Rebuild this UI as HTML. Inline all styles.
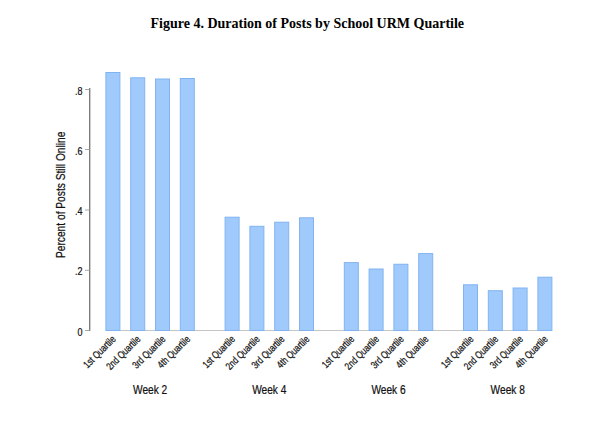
<!DOCTYPE html>
<html><head><meta charset="utf-8"><style>
html,body{margin:0;padding:0;background:#fff;}
body{width:600px;height:423px;overflow:hidden;position:relative;}
svg{position:absolute;left:0;top:0;}
svg text{font-family:"Liberation Sans",sans-serif;fill:#111;stroke:#111;stroke-width:0.22px;}
svg text.t{font-family:"Liberation Serif",serif;font-weight:bold;font-size:14px;fill:#000;stroke:none;}
</style></head><body>
<svg width="600" height="423" viewBox="0 0 600 423">
<text class="t" x="150.5" y="27.5">Figure 4. Duration of Posts by School URM Quartile</text>
<line x1="112.90" y1="330.5" x2="544.90" y2="330.5" stroke="#c4c4c4" stroke-width="1"/>
<rect x="105.90" y="72.50" width="14.00" height="258.00" fill="#a1cafc" stroke="#80b3f2" stroke-width="1"/>
<rect x="130.70" y="77.80" width="14.00" height="252.70" fill="#a1cafc" stroke="#80b3f2" stroke-width="1"/>
<rect x="155.50" y="79.00" width="14.00" height="251.50" fill="#a1cafc" stroke="#80b3f2" stroke-width="1"/>
<rect x="180.30" y="78.50" width="14.00" height="252.00" fill="#a1cafc" stroke="#80b3f2" stroke-width="1"/>
<rect x="225.10" y="217.20" width="14.00" height="113.30" fill="#a1cafc" stroke="#80b3f2" stroke-width="1"/>
<rect x="249.90" y="226.30" width="14.00" height="104.20" fill="#a1cafc" stroke="#80b3f2" stroke-width="1"/>
<rect x="274.70" y="222.20" width="14.00" height="108.30" fill="#a1cafc" stroke="#80b3f2" stroke-width="1"/>
<rect x="299.50" y="217.80" width="14.00" height="112.70" fill="#a1cafc" stroke="#80b3f2" stroke-width="1"/>
<rect x="344.30" y="262.60" width="14.00" height="67.90" fill="#a1cafc" stroke="#80b3f2" stroke-width="1"/>
<rect x="369.10" y="269.00" width="14.00" height="61.50" fill="#a1cafc" stroke="#80b3f2" stroke-width="1"/>
<rect x="393.90" y="264.25" width="14.00" height="66.25" fill="#a1cafc" stroke="#80b3f2" stroke-width="1"/>
<rect x="418.70" y="253.60" width="14.00" height="76.90" fill="#a1cafc" stroke="#80b3f2" stroke-width="1"/>
<rect x="463.50" y="284.80" width="14.00" height="45.70" fill="#a1cafc" stroke="#80b3f2" stroke-width="1"/>
<rect x="488.30" y="290.70" width="14.00" height="39.80" fill="#a1cafc" stroke="#80b3f2" stroke-width="1"/>
<rect x="513.10" y="288.00" width="14.00" height="42.50" fill="#a1cafc" stroke="#80b3f2" stroke-width="1"/>
<rect x="537.90" y="277.20" width="14.00" height="53.30" fill="#a1cafc" stroke="#80b3f2" stroke-width="1"/>
<line x1="89.75" y1="88" x2="89.75" y2="331" stroke="#5a5a5a" stroke-width="1.1"/>
<line x1="85" y1="89.5" x2="89.5" y2="89.5" stroke="#a8a8a8" stroke-width="1"/>
<text transform="translate(82.5,94.50) scale(0.88,1)" text-anchor="end" font-size="10.2">.8</text>
<line x1="85" y1="149.5" x2="89.5" y2="149.5" stroke="#a8a8a8" stroke-width="1"/>
<text transform="translate(82.5,154.50) scale(0.88,1)" text-anchor="end" font-size="10.2">.6</text>
<line x1="85" y1="210" x2="89.5" y2="210" stroke="#a8a8a8" stroke-width="1"/>
<text transform="translate(82.5,215.00) scale(0.88,1)" text-anchor="end" font-size="10.2">.4</text>
<line x1="85" y1="270.3" x2="89.5" y2="270.3" stroke="#a8a8a8" stroke-width="1"/>
<text transform="translate(82.5,275.30) scale(0.88,1)" text-anchor="end" font-size="10.2">.2</text>
<line x1="85" y1="330.5" x2="89.5" y2="330.5" stroke="#a8a8a8" stroke-width="1"/>
<text transform="translate(82.5,335.50) scale(0.88,1)" text-anchor="end" font-size="10.2">0</text>
<text transform="translate(113.90,337.2) rotate(-45) scale(0.77,1)" x="0" y="3.6" text-anchor="end" font-size="10.4">1st Quartile</text>
<text transform="translate(138.70,337.2) rotate(-45) scale(0.77,1)" x="0" y="3.6" text-anchor="end" font-size="10.4">2nd Quartile</text>
<text transform="translate(163.50,337.2) rotate(-45) scale(0.77,1)" x="0" y="3.6" text-anchor="end" font-size="10.4">3rd Quartile</text>
<text transform="translate(188.30,337.2) rotate(-45) scale(0.77,1)" x="0" y="3.6" text-anchor="end" font-size="10.4">4th Quartile</text>
<text transform="translate(233.10,337.2) rotate(-45) scale(0.77,1)" x="0" y="3.6" text-anchor="end" font-size="10.4">1st Quartile</text>
<text transform="translate(257.90,337.2) rotate(-45) scale(0.77,1)" x="0" y="3.6" text-anchor="end" font-size="10.4">2nd Quartile</text>
<text transform="translate(282.70,337.2) rotate(-45) scale(0.77,1)" x="0" y="3.6" text-anchor="end" font-size="10.4">3rd Quartile</text>
<text transform="translate(307.50,337.2) rotate(-45) scale(0.77,1)" x="0" y="3.6" text-anchor="end" font-size="10.4">4th Quartile</text>
<text transform="translate(352.30,337.2) rotate(-45) scale(0.77,1)" x="0" y="3.6" text-anchor="end" font-size="10.4">1st Quartile</text>
<text transform="translate(377.10,337.2) rotate(-45) scale(0.77,1)" x="0" y="3.6" text-anchor="end" font-size="10.4">2nd Quartile</text>
<text transform="translate(401.90,337.2) rotate(-45) scale(0.77,1)" x="0" y="3.6" text-anchor="end" font-size="10.4">3rd Quartile</text>
<text transform="translate(426.70,337.2) rotate(-45) scale(0.77,1)" x="0" y="3.6" text-anchor="end" font-size="10.4">4th Quartile</text>
<text transform="translate(471.50,337.2) rotate(-45) scale(0.77,1)" x="0" y="3.6" text-anchor="end" font-size="10.4">1st Quartile</text>
<text transform="translate(496.30,337.2) rotate(-45) scale(0.77,1)" x="0" y="3.6" text-anchor="end" font-size="10.4">2nd Quartile</text>
<text transform="translate(521.10,337.2) rotate(-45) scale(0.77,1)" x="0" y="3.6" text-anchor="end" font-size="10.4">3rd Quartile</text>
<text transform="translate(545.90,337.2) rotate(-45) scale(0.77,1)" x="0" y="3.6" text-anchor="end" font-size="10.4">4th Quartile</text>
<text transform="translate(150.10,393.5) scale(0.84,1)" text-anchor="middle" font-size="12.1">Week 2</text>
<text transform="translate(269.30,393.5) scale(0.84,1)" text-anchor="middle" font-size="12.1">Week 4</text>
<text transform="translate(388.50,393.5) scale(0.84,1)" text-anchor="middle" font-size="12.1">Week 6</text>
<text transform="translate(507.70,393.5) scale(0.84,1)" text-anchor="middle" font-size="12.1">Week 8</text>
<text transform="translate(64.6,194.8) rotate(-90) scale(0.83,1)" text-anchor="middle" font-size="12.3">Percent of Posts Still Online</text>
</svg>
</body></html>
